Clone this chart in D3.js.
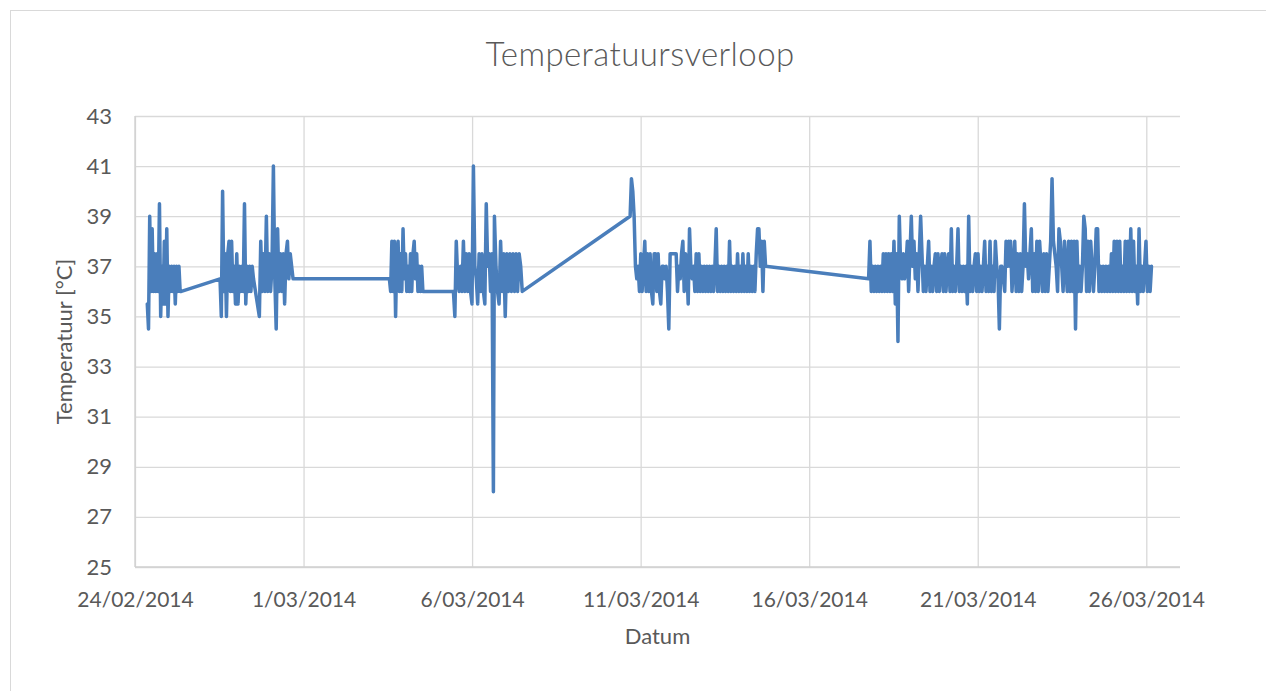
<!DOCTYPE html>
<html lang="nl">

<head>
  <meta charset="UTF-8">
  <title>Temperatuursverloop</title>
  <style>
    body {
      margin: 0;
      background: #fff;
    }

    svg text {
      font-family: Lato, "Open Sans", sans-serif;
      fill: #595959;
    }
  </style>
</head>

<body>
  <div id="chart"></div>

  <script src="https://d3js.org/d3.v7.min.js"></script>
  <script>
    // metingen: per meetreeks een starttijd, een interval (minuten) en de temperaturen
    const burstStarts = [
      '2014-02-24 08:45', '2014-02-26 12:32', '2014-02-27 16:32', '2014-03-03 13:07',
      '2014-03-05 10:42', '2014-03-06 15:54', '2014-03-10 16:30', '2014-03-12 01:18',
      '2014-03-17 18:18', '2014-03-21 23:24'
    ]
    const burstStepMin = [52, 55, 60, 53, 61, 66, 57, 57, 57, 59]

    const tempA = [35.5, 34.5, 39, 36, 38.5, 36, 37.5, 36, 37.5, 36, 39.5, 35, 37, 35.5, 38, 35.5, 38.5, 35, 37, 36,
      37, 36, 37, 35.5, 37, 36, 37, 36, 36]
    const tempB1 = [36.5, 35, 40, 36, 37.5, 35, 37.5, 38, 36, 38, 36, 37, 35.5, 37.5, 35.5, 37, 36, 37, 36, 39.5,
      35.5, 37, 36, 37, 36, 37, 36.5]
    const tempB2 = [35, 38, 36, 37.5, 36, 39, 36, 37.5, 36, 37, 41, 36.5, 34.5, 38.5, 36, 37.5, 36, 37.5, 35.5, 37.5,
      38, 36.5, 37.5, 37, 36.5]
    const tempC1 = [36.5, 36, 38, 36, 38, 35, 37.5, 38, 36, 37.5, 36, 38.5, 36.5, 37.5, 36, 37, 36, 37.5, 36, 37.5,
      38, 36.5, 37.5, 36, 37, 36, 37, 36]
    const tempC2 = [36, 35, 38, 36.5, 36, 37, 36, 38, 36, 37.5, 36, 37.5, 36, 35.5, 41, 37, 36.5, 35.5, 37.5, 36,
      37.5, 36, 35.5, 39.5, 37, 37.5, 36, 37.5, 28]
    const tempC3 = [39, 37, 36, 35.5, 38, 36, 37.5, 35, 37.5, 36, 37.5, 36, 37.5, 36, 37.5, 36, 37.5, 37, 36]
    const tempD1 = [39, 40.5, 40, 39, 37, 36.5, 37, 36, 37.5, 36, 37, 38, 36, 37.5, 36, 37.5, 36, 35.5, 37.5, 37.5,
      36, 37.5, 36, 35.5, 37, 37, 36.5, 37, 36, 34.5, 37.5]
    const tempD2 = [37.5, 36, 37, 36.5, 37.5, 38, 36, 37.5, 37, 35.5, 38.5, 37, 36.5, 37, 36, 37.5, 36, 37.5, 36, 37,
      36, 37, 36, 37, 36, 37, 36, 37, 36, 37, 38.5, 36, 37, 36, 37, 36, 37, 36, 37, 36,
      38, 36, 37, 36, 37, 36, 37.5, 36, 37, 36, 37.5, 36, 37, 36, 37.5, 36, 37, 36, 37, 36,
      37.5, 38.5, 38.5, 37, 38, 36, 38, 37]
    const tempE = [36.5, 38, 36, 37, 36, 37, 36, 37, 36, 37, 36, 37.5, 36, 37.5, 36, 37.5, 36, 37.5, 36, 38,
      35.5, 37.5, 34, 39, 37, 36.5, 37.5, 36.5, 37, 38, 36, 37.5, 39, 37, 38, 36.5, 37.5, 36, 37.5, 39,
      37.5, 36, 37, 36, 37, 38, 36, 37, 36, 37, 37.5, 36, 37.5, 36, 37, 37.5, 36, 37.5, 36, 37,
      37.5, 36, 38.5, 36, 37, 36, 37, 38.5, 36, 37, 36, 37, 36, 37, 35.5, 39, 36, 37, 36, 37,
      37.5, 36, 37.5, 36, 37, 36, 37, 38, 36, 37, 36, 38, 36, 37, 36, 38, 37, 36.5, 34.5, 37,
      37, 36.5, 36, 38, 37, 38, 37]
    const tempF = [38, 36, 37, 38, 36, 37.5, 36, 37.5, 36, 37, 39.5, 37, 37.5, 36.5, 37.5, 38.5, 36, 37.5, 36, 38,
      36, 38, 37, 36, 37.5, 36, 37.5, 36, 37, 38, 40.5, 38, 37.5, 37, 36, 38.5, 38, 37, 36, 38,
      37, 36, 38, 36, 38, 36, 38, 34.5, 38, 36, 37, 36, 37, 39, 38.5, 36, 38, 36, 38, 37,
      36, 37, 38.5, 38.5, 36, 37, 36, 37, 36, 37, 36, 37, 36, 37.5, 36, 38, 36, 38, 36, 38,
      36, 37, 36, 38, 36, 38, 36, 38.5, 36, 38, 36, 37, 35.5, 38.5, 36, 37, 36, 37, 38, 36,
      37, 36, 37]

    const bursts = [tempA, tempB1, tempB2, tempC1, tempC2, tempC3, tempD1, tempD2, tempE, tempF]

    const xTicks = ['2014-02-24', '2014-03-01', '2014-03-06', '2014-03-11', '2014-03-16', '2014-03-21', '2014-03-26']
    const yTicks = [25, 27, 29, 31, 33, 35, 37, 39, 41, 43]

    const width = 1266
    const height = 691
    const plot = { left: 135, right: 1180, top: 116, bottom: 567 }

    const parseTime = d3.timeParse('%Y-%m-%d %H:%M')
    const parseDay = d3.timeParse('%Y-%m-%d')

    // alle metingen achter elkaar, één lijn
    const data = []
    bursts.forEach((temps, i) => {
      const t0 = parseTime(burstStarts[i])
      temps.forEach((v, j) => {
        data.push({ date: d3.timeMinute.offset(t0, j * burstStepMin[i]), temp: v })
      })
    })

    const svg = d3.select('#chart').append('svg')
      .attr('width', width)
      .attr('height', height)

    // kader rond de grafiek
    svg.append('rect')
      .attr('x', 10.5)
      .attr('y', 10.5)
      .attr('width', width + 20)
      .attr('height', height + 20)
      .attr('fill', '#fff')
      .attr('stroke', '#d9d9d9')

    const x = d3.scaleTime()
      .domain([parseDay('2014-02-24'), parseDay('2014-03-27')])
      .range([plot.left, plot.right])

    const y = d3.scaleLinear()
      .domain([25, 43])
      .range([plot.bottom, plot.top])

    // rasterlijnen
    svg.append('g')
      .attr('transform', `translate(${plot.left},0)`)
      .call(d3.axisLeft(y).tickValues(yTicks).tickSize(-(plot.right - plot.left)).tickFormat(''))
    svg.append('g')
      .attr('transform', `translate(0,${plot.bottom})`)
      .call(d3.axisBottom(x).tickValues(xTicks.map(parseDay)).tickSize(-(plot.bottom - plot.top)).tickFormat(''))
    svg.selectAll('g').select('.domain').remove()
    svg.selectAll('g .tick line')
      .attr('stroke', '#d9d9d9')
      .attr('stroke-width', 1.3)

    // assen
    svg.append('line')
      .attr('x1', plot.left).attr('x2', plot.left)
      .attr('y1', plot.top).attr('y2', plot.bottom)
      .attr('stroke', '#d0d0d0').attr('stroke-width', 1.3)
    svg.append('line')
      .attr('x1', plot.left).attr('x2', plot.right)
      .attr('y1', plot.bottom).attr('y2', plot.bottom)
      .attr('stroke', '#d0d0d0').attr('stroke-width', 1.3)

    const yAxis = svg.append('g')
      .attr('transform', `translate(${plot.left},0)`)
      .call(d3.axisLeft(y).tickValues(yTicks).tickSize(0).tickPadding(23))
    const xAxis = svg.append('g')
      .attr('transform', `translate(0,${plot.bottom})`)
      .call(d3.axisBottom(x).tickValues(xTicks.map(parseDay)).tickSize(0).tickFormat(d3.timeFormat('%-d/%m/%Y')))
    yAxis.select('.domain').remove()
    xAxis.select('.domain').remove()
    yAxis.selectAll('text').style('font-size', '22px')
    xAxis.selectAll('text').style('font-size', '21px').attr('y', 40).attr('dy', 0)
    svg.selectAll('.tick text').attr('font-family', null)

    // lijn
    const line = d3.line()
      .x(d => x(d.date))
      .y(d => y(d.temp))

    svg.append('path')
      .datum(data)
      .attr('d', line)
      .attr('fill', 'none')
      .attr('stroke', '#4a7ebb')
      .attr('stroke-width', 3.5)
      .attr('stroke-linejoin', 'round')
      .attr('stroke-linecap', 'round')

    // titels
    svg.append('text')
      .attr('x', 640)
      .attr('y', 66)
      .attr('text-anchor', 'middle')
      .style('font-size', '33px')
      .style('font-weight', 300)
      .style('letter-spacing', '0.4px')
      .text('Temperatuursverloop')

    svg.append('text')
      .attr('x', (plot.left + plot.right) / 2)
      .attr('y', 644)
      .attr('text-anchor', 'middle')
      .style('font-size', '22px')
      .text('Datum')

    svg.append('text')
      .attr('transform', `translate(72,${(plot.top + plot.bottom) / 2}) rotate(-90)`)
      .attr('text-anchor', 'middle')
      .style('font-size', '22px')
      .text('Temperatuur [°C]')
  </script>
</body>

</html>
